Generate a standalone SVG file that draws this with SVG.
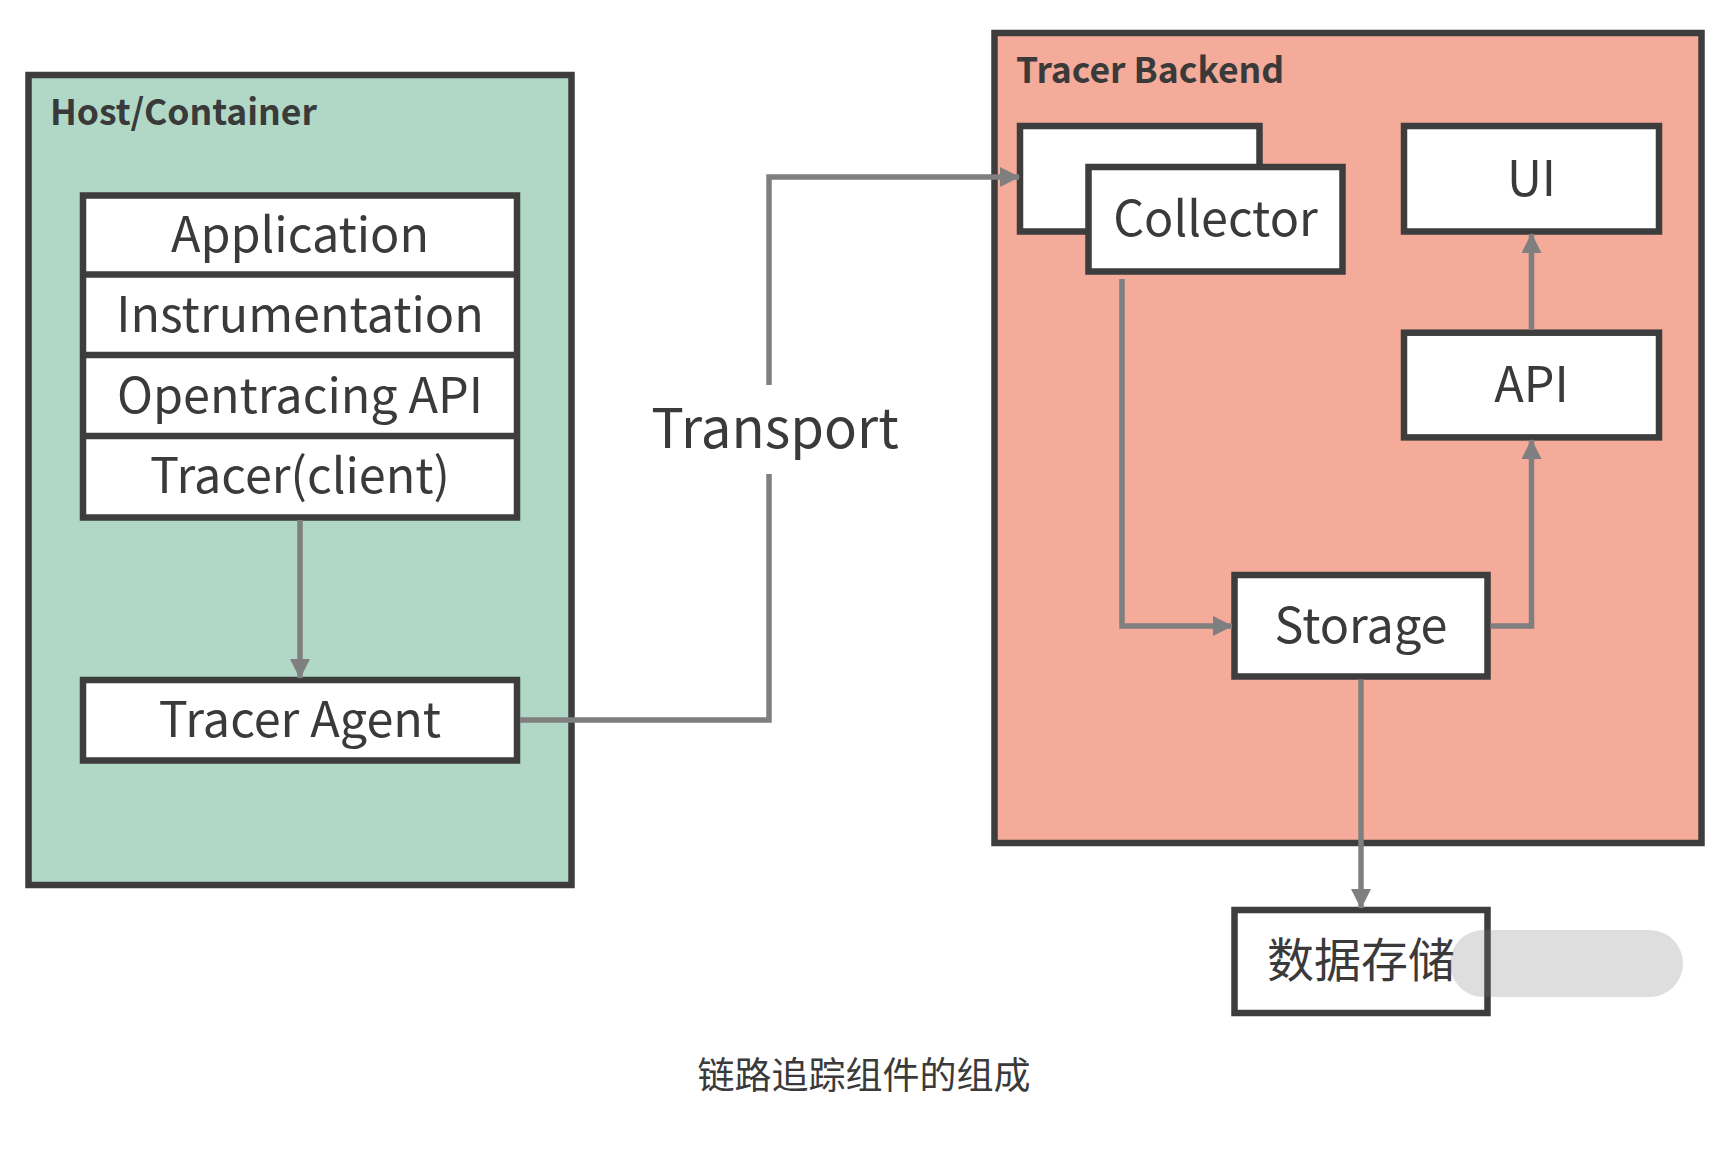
<svg xmlns="http://www.w3.org/2000/svg" width="1735" height="1151" viewBox="0 0 1735 1151">
<defs>
<style>
.box{fill:#ffffff;stroke:#3d3d3d;stroke-width:6.5}
.txt{font-family:"Noto Sans CJK SC","Source Sans Pro","Liberation Sans",sans-serif;fill:#3a3a3a;text-anchor:middle}
.lbl{font-size:48.5px}
.ttl{font-family:"Noto Sans CJK SC","Liberation Sans",sans-serif;fill:#3a3a3a;font-size:35.5px;font-weight:bold}
.conn{fill:none;stroke:#7f7f7f;stroke-width:5.5}
</style>
<marker id="arr" viewBox="0 0 20 20" refX="19" refY="10" markerWidth="20" markerHeight="20" markerUnits="userSpaceOnUse" orient="auto">
<path d="M0,0 L20,10 L0,20 Z" fill="#7f7f7f"/>
</marker>
</defs>
<rect width="1735" height="1151" fill="#ffffff"/>

<g id="host">
<rect x="28.5" y="75" width="543" height="810" fill="#b1d8c6" stroke="#3d3d3d" stroke-width="6.5"/>
<text class="ttl" x="50" y="125">Host/Container</text>
</g>

<g id="backend">
<rect x="994.5" y="33" width="707" height="810" fill="#f4ab99" stroke="#3d3d3d" stroke-width="6.5"/>
<text class="ttl" x="1016" y="83">Tracer Backend</text>
</g>

<g id="client-stack">
<rect class="box" x="83" y="195.5" width="434" height="322"/>
<line x1="83" y1="274.5" x2="517" y2="274.5" stroke="#3d3d3d" stroke-width="6.5"/>
<line x1="83" y1="355" x2="517" y2="355" stroke="#3d3d3d" stroke-width="6.5"/>
<line x1="83" y1="436" x2="517" y2="436" stroke="#3d3d3d" stroke-width="6.5"/>
<text class="txt lbl" x="300" y="252">Application</text>
<text class="txt lbl" x="300" y="332">Instrumentation</text>
<text class="txt lbl" x="300" y="413">Opentracing API</text>
<text class="txt lbl" x="300" y="493">Tracer(client)</text>
</g>

<g id="tracer-agent">
<rect class="box" x="83" y="680" width="434" height="80.5"/>
<text class="txt lbl" x="300" y="737">Tracer Agent</text>
</g>

<g id="collector">
<rect class="box" x="1020" y="126" width="239.5" height="105.5"/>
<rect class="box" x="1088.5" y="167" width="254" height="104.5"/>
<text class="txt lbl" x="1215.5" y="236">Collector</text>
</g>

<g id="ui">
<rect class="box" x="1404" y="126" width="255" height="105.5"/>
<text class="txt lbl" x="1531.5" y="196">UI</text>
</g>

<g id="api">
<rect class="box" x="1404" y="332.7" width="255" height="104.7"/>
<text class="txt lbl" x="1531.5" y="402">API</text>
</g>

<g id="storage">
<rect class="box" x="1234.5" y="575" width="253" height="101.5"/>
<text class="txt lbl" x="1361" y="643">Storage</text>
</g>

<g id="datastore">
<rect class="box" x="1234.5" y="910" width="253" height="103"/>
<text class="txt" x="1361" y="977" font-size="47">数据存储</text>
</g>

<g id="connectors">
<path class="conn" d="M300,520 L300,678" marker-end="url(#arr)"/>
<path class="conn" d="M520,720 L769,720 L769,474 M769,385 L769,177 L1019,177" marker-end="url(#arr)"/>
<path class="conn" d="M1122,279 L1122,626 L1232,626" marker-end="url(#arr)"/>
<path class="conn" d="M1490.5,626 L1531.5,626 L1531.5,440" marker-end="url(#arr)"/>
<path class="conn" d="M1531.5,330 L1531.5,234" marker-end="url(#arr)"/>
<path class="conn" d="M1361,679.4 L1361,908" marker-end="url(#arr)"/>
</g>

<g id="transport-label">
<text class="txt" x="775" y="448" font-size="54.5">Transport</text>
</g>

<g id="caption">
<text class="txt" x="864" y="1089" font-size="37" fill="#333333">链路追踪组件的组成</text>
</g>

<g id="watermark">
<rect x="1450" y="930" width="233" height="67" rx="33.5" fill="#7a7a7a" fill-opacity="0.25"/>
</g>
</svg>
